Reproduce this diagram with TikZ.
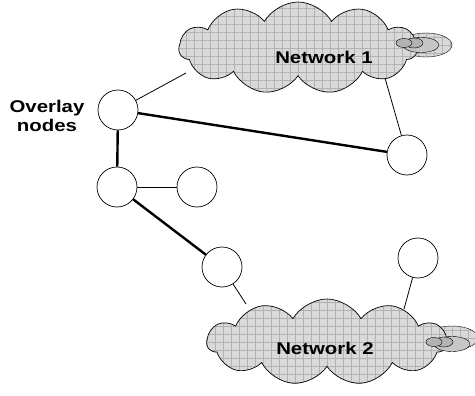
\documentclass[tikz,border=0pt]{standalone}
\usepackage{fontspec}
\setmainfont{Liberation Sans}
\usetikzlibrary{shapes.geometric, shapes.symbols}
\tikzstyle{peer} = [circle, draw, line width=0.7pt, fill=white, minimum size=40pt, inner sep=0pt]
\tikzstyle{cloudnet} = [cloud, cloud puffs=11, cloud puff arc=120, draw, line width=0.7pt, fill=gray!30, inner sep=0pt,
  path picture={\draw[gray!60, step=8pt] (path picture bounding box.south west) grid (path picture bounding box.north east);}]
\tikzstyle{lobe} = [ellipse, draw, fill=gray!30, inner sep=0pt,
  path picture={\draw[gray!60, step=8pt] (path picture bounding box.south west) grid (path picture bounding box.north east);}]
\tikzstyle{blob} = [ellipse, draw, inner sep=0pt]
\tikzstyle{netlabel} = [font=\fontsize{17}{19}\selectfont\bfseries]
\tikzstyle{thinlink} = [line width=0.8pt]
\tikzstyle{thicklink} = [line width=2.4pt]

\begin{document}
\begin{tikzpicture}[x=1pt, y=-1pt]
            \useasboundingbox (0,0) rectangle (475,396);

            % networks
            \node [lobe, minimum width=52pt, minimum height=24pt] at (426,45) (lobe1) {};
            \node [cloudnet, minimum width=238pt, minimum height=92pt] at (298,48) (net1) {};
            \node [blob, fill=gray!45, minimum width=36pt, minimum height=15pt] at (421,45) (blob1c) {};
            \node [blob, fill=gray!60, minimum width=18pt, minimum height=10pt] at (414,43) (blob1b) {};
            \node [blob, fill=gray!60, minimum width=16pt, minimum height=9pt] at (404,43) (blob1a) {};
            \node [netlabel] at (324,57) (text1) {\scalebox{1.2}[1]{Network 1}};

            \node [lobe, minimum width=52pt, minimum height=24pt] at (452,338) (lobe2) {};
            \node [cloudnet, minimum width=240pt, minimum height=86pt] at (327,342) (net2) {};
            \node [blob, fill=gray!45, minimum width=36pt, minimum height=15pt] at (452,344) (blob2c) {};
            \node [blob, fill=gray!60, minimum width=18pt, minimum height=10pt] at (444,342) (blob2b) {};
            \node [blob, fill=gray!60, minimum width=16pt, minimum height=9pt] at (434,342) (blob2a) {};
            \node [netlabel] at (325,348) (text2) {\scalebox{1.2}[1]{Network 2}};

            % attachment points in the clouds
            \coordinate (in1a) at (186,73);
            \coordinate (in1b) at (385,78);
            \coordinate (in2a) at (246,304);
            \coordinate (in2b) at (404,309);

            % overlay nodes
            \node [peer] at (118,110) (pa) {};
            \node [peer] at (117,187) (pb) {};
            \node [peer] at (197,187) (pc) {};
            \node [peer] at (222,267) (pd) {};
            \node [peer] at (407,155) (pe) {};
            \node [peer] at (418,258) (pf) {};
            \node [align=center, font=\fontsize{17}{19}\selectfont\bfseries] at (47,116) (caption) {\scalebox{1.2}[1]{Overlay}\\\scalebox{1.2}[1]{nodes}};

            \draw [thinlink] (pa) -- (in1a);
            \draw [thinlink] (pe) -- (in1b);
            \draw [thinlink] (pd) -- (in2a);
            \draw [thinlink] (pf) -- (in2b);
            \draw [thinlink] (pb) -- (pc);
            \draw [thicklink] (pa) -- (pe);
            \draw [thicklink] (pa) -- (pb);
            \draw [thicklink] (pb) -- (pd);
            \end{tikzpicture}
\end{document}
